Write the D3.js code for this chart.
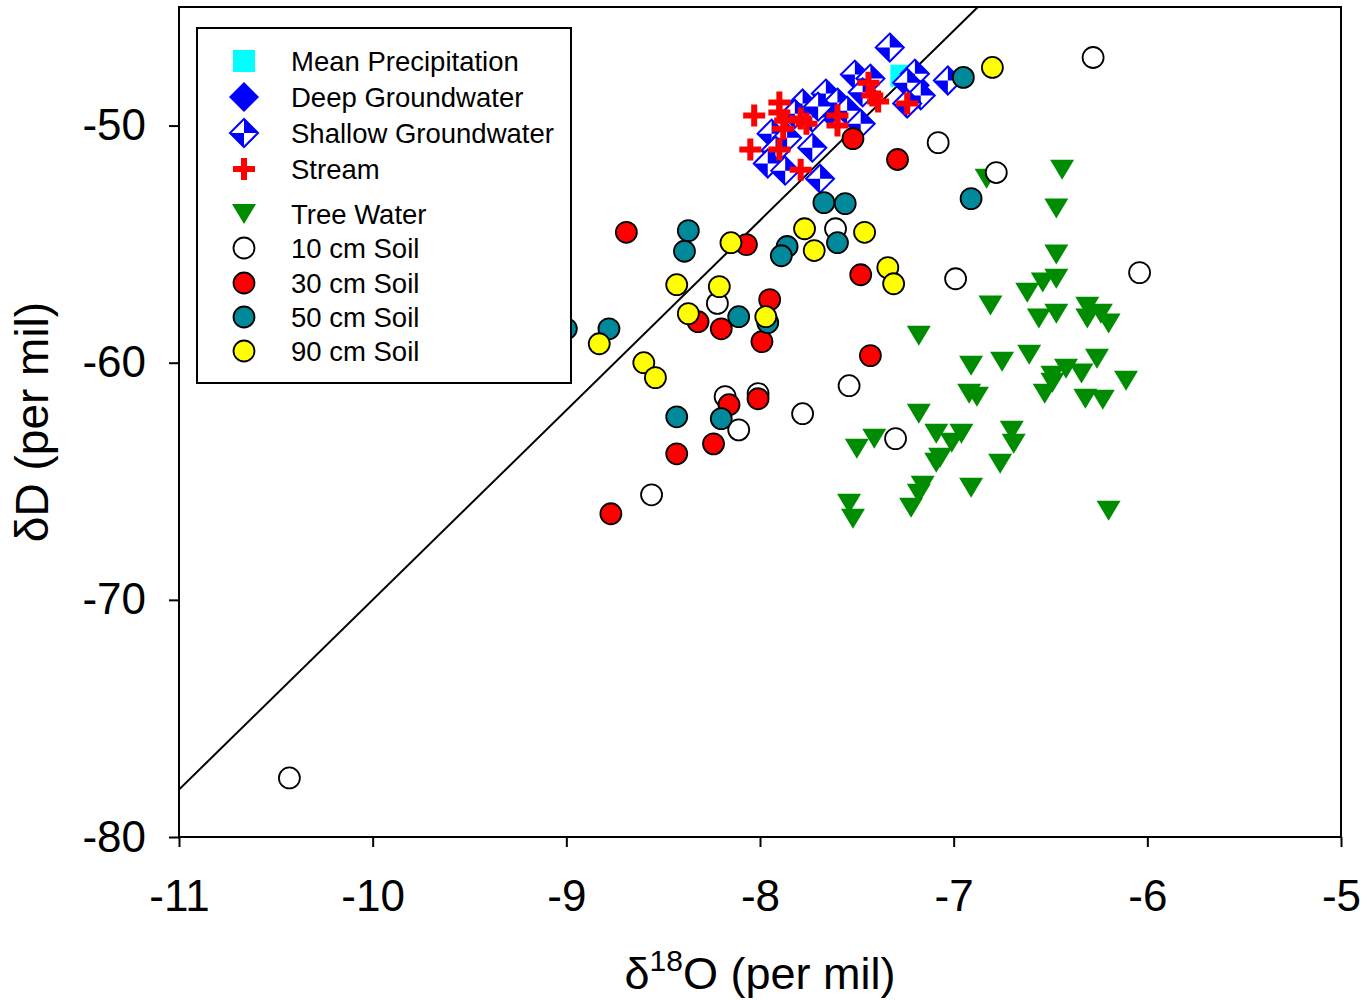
<!DOCTYPE html>
<html><head><meta charset="utf-8">
<script src="https://cdn.jsdelivr.net/npm/d3@7"></script>
<style>
body{margin:0;background:#fff}
svg{display:block}
text{font-family:"Liberation Sans",Arial,Helvetica,sans-serif;fill:#000}
</style>
</head><body>
<svg id="chart" width="1367" height="1000"></svg>
<script>
// ---------- data ----------
const xTicks = [-11, -10, -9, -8, -7, -6, -5];
const yTicks = [-80, -70, -60, -50];

const mwlX = [-11, -6.875];
const mwlY = [-78, -45];

const meanPrecip = [[-7.27, -47.9]];

const deepGW = [[-7.77, -49.2], [-7.20, -48.3], [-7.64, -49.4]];

const shallowGW = [
  [-7.33, -46.71], [-7.51, -47.85], [-7.43, -48.02], [-7.20, -47.81], [-7.24, -48.19],
  [-7.03, -48.10], [-7.17, -48.73], [-7.24, -49.07], [-7.78, -49.07], [-7.66, -48.65],
  [-7.60, -49.03], [-7.55, -49.37], [-7.48, -49.92], [-7.73, -49.66], [-7.94, -50.34],
  [-7.86, -50.51], [-7.73, -50.93], [-7.92, -51.05], [-7.96, -51.60], [-7.87, -51.90],
  [-7.69, -52.24], [-7.47, -48.6], [-7.82, -49.5], [-7.70, -49.2]
];

const stream = [
  [-8.03, -49.58], [-7.90, -49.03], [-7.90, -49.45], [-7.87, -49.79], [-7.79, -49.70],
  [-7.76, -49.92], [-7.60, -49.58], [-7.60, -50.00], [-7.44, -48.19], [-7.42, -48.73],
  [-7.39, -48.99], [-7.24, -49.07], [-8.05, -51.01], [-7.90, -51.01], [-7.79, -51.86],
  [-7.88, -50.13]
];

const treeWater = [
  [-6.83, -52.24], [-6.44, -51.86], [-6.47, -53.50], [-6.47, -55.44], [-6.47, -56.46],
  [-6.54, -56.62], [-6.62, -57.05], [-6.81, -57.59], [-7.18, -58.86], [-6.47, -57.93],
  [-6.56, -58.14], [-6.31, -57.64], [-6.31, -58.14], [-6.24, -57.93], [-6.20, -58.35],
  [-6.91, -60.13], [-6.75, -59.96], [-6.61, -59.66], [-6.26, -59.83], [-6.11, -60.76],
  [-6.42, -60.25], [-6.34, -60.46], [-6.49, -60.55], [-6.49, -60.84], [-6.53, -61.31],
  [-6.32, -61.52], [-6.23, -61.56], [-6.92, -61.31], [-6.88, -61.43], [-7.18, -62.15],
  [-7.50, -63.63], [-7.41, -63.21], [-7.09, -63.00], [-6.96, -63.00], [-7.01, -63.38],
  [-7.09, -64.22], [-7.07, -64.01], [-6.70, -62.87], [-6.69, -63.42], [-6.76, -64.26],
  [-6.91, -65.27], [-7.16, -65.19], [-7.18, -65.53], [-7.22, -66.12], [-7.54, -65.95],
  [-7.52, -66.58], [-6.20, -66.24]
];

const soil10 = [
  [-10.43, -77.51], [-6.28, -47.13], [-7.08, -50.72], [-6.78, -51.98], [-6.04, -56.20],
  [-6.99, -56.46], [-7.61, -54.35], [-8.22, -57.50], [-8.18, -61.43], [-8.01, -61.30],
  [-8.11, -62.83], [-7.78, -62.15], [-7.54, -60.97], [-7.30, -63.20], [-8.56, -65.57]
];

const soil30 = [
  [-8.69, -54.50], [-8.07, -55.02], [-8.32, -58.27], [-8.20, -58.57], [-7.95, -57.34],
  [-7.99, -59.11], [-7.48, -56.29], [-7.43, -59.70], [-7.52, -50.55], [-7.29, -51.43],
  [-8.16, -61.77], [-8.01, -61.52], [-8.24, -63.42], [-8.43, -63.84], [-8.77, -66.37]
];

const soil50 = [
  [-9.00, -58.57], [-8.78, -58.57], [-8.37, -54.43], [-8.39, -55.30], [-7.86, -55.10],
  [-7.89, -55.49], [-7.60, -54.94], [-7.67, -53.25], [-7.56, -53.29], [-8.11, -58.06],
  [-7.96, -58.31], [-6.91, -53.08], [-6.95, -47.97], [-8.43, -62.28], [-8.20, -62.36]
];

const soil90 = [
  [-6.80, -47.55], [-8.15, -54.94], [-7.77, -54.35], [-7.72, -55.27], [-7.46, -54.50],
  [-8.43, -56.71], [-8.21, -56.79], [-8.37, -57.93], [-7.97, -58.06], [-8.83, -59.20],
  [-8.60, -60.00], [-8.54, -60.63], [-7.34, -55.99], [-7.31, -56.67]
];

const legendLabels = ["Mean Precipitation", "Deep Groundwater", "Shallow Groundwater", "Stream",
  "Tree Water", "10 cm Soil", "30 cm Soil", "50 cm Soil", "90 cm Soil"];
const legendKeys = ["precip", "deep", "shallow", "stream", "tree", "s10", "s30", "s50", "s90"];

// ---------- layout ----------
const W = 1367, H = 1000;
const M = {left: 179, right: 1341, top: 7, bottom: 837};
const x = d3.scaleLinear().domain([-11, -5]).range([M.left, M.right]);
const y = d3.scaleLinear().domain([-80, -45]).range([M.bottom, M.top]);

const BLUE = "#0000ff", RED = "#ff0000", GREEN = "#008c00", TEAL = "#00899b",
      YELLOW = "#ffff00", CYAN = "#00ffff";

const svg = d3.select("#chart");
svg.append("rect").attr("width", W).attr("height", H).attr("fill", "#fff");

svg.append("defs").append("clipPath").attr("id", "clip")
  .append("rect").attr("x", M.left).attr("y", M.top)
  .attr("width", M.right - M.left).attr("height", M.bottom - M.top);

const plot = svg.append("g").attr("clip-path", "url(#clip)");

// meteoric water line
plot.append("line")
  .attr("x1", x(mwlX[0])).attr("y1", y(mwlY[0]))
  .attr("x2", x(mwlX[1])).attr("y2", y(mwlY[1]))
  .attr("stroke", "#000").attr("stroke-width", 2);

// ---------- marker drawers ----------
function drawMarker(g, key, cx, cy) {
  const t = g.append("g").attr("transform", `translate(${cx},${cy})`);
  if (key === "precip") {
    t.append("rect").attr("x", -11).attr("y", -11).attr("width", 22).attr("height", 22).attr("fill", CYAN);
  } else if (key === "deep") {
    t.append("path").attr("d", "M0,-15L15,0L0,15L-15,0Z").attr("fill", BLUE);
  } else if (key === "shallow") {
    const r = 14;
    t.append("path").attr("d", `M0,-${r}L${r},0L0,${r}L-${r},0Z`).attr("fill", "#fff");
    t.append("path").attr("d", `M0,-${r}L${r},0L0,0Z`).attr("fill", BLUE);
    t.append("path").attr("d", `M0,${r}L-${r},0L0,0Z`).attr("fill", BLUE);
    t.append("path").attr("d", `M0,-${r}L${r},0L0,${r}L-${r},0Z`).attr("fill", "none")
      .attr("stroke", BLUE).attr("stroke-width", 2);
  } else if (key === "stream") {
    t.append("path").attr("d", "M-3,-11H3V-3H11V3H3V11H-3V3H-11V-3H-3Z").attr("fill", RED);
  } else if (key === "tree") {
    t.append("path").attr("d", "M-12,-10L12,-10L0,10Z").attr("fill", GREEN);
  } else {
    const fill = {s10: "#fff", s30: RED, s50: TEAL, s90: YELLOW}[key];
    t.append("circle").attr("r", 10.5).attr("fill", fill).attr("stroke", "#000").attr("stroke-width", 1.8);
  }
}

function drawSeries(data, key) {
  const g = plot.append("g").attr("class", key);
  data.forEach(d => drawMarker(g, key, x(d[0]), y(d[1])));
}

drawSeries(meanPrecip, "precip");
drawSeries(deepGW, "deep");
drawSeries(shallowGW, "shallow");
drawSeries(stream, "stream");
drawSeries(treeWater, "tree");
drawSeries(soil10, "s10");
drawSeries(soil30, "s30");
drawSeries(soil50, "s50");
drawSeries(soil90, "s90");

// ---------- frame & axes ----------
svg.append("rect")
  .attr("x", M.left).attr("y", M.top)
  .attr("width", M.right - M.left).attr("height", M.bottom - M.top)
  .attr("fill", "none").attr("stroke", "#000").attr("stroke-width", 2);

const xAxis = svg.append("g").attr("transform", `translate(0,${M.bottom})`)
  .call(d3.axisBottom(x).tickValues(xTicks).tickSize(10).tickPadding(33)
        .tickFormat(d => String(d)));
const yAxis = svg.append("g").attr("transform", `translate(${M.left},0)`)
  .call(d3.axisLeft(y).tickValues(yTicks).tickSize(10).tickPadding(23)
        .tickFormat(d => String(d)));
[xAxis, yAxis].forEach(a => {
  a.select(".domain").remove();
  a.selectAll(".tick line").attr("stroke", "#000").attr("stroke-width", 2);
  a.selectAll(".tick text").attr("font-size", 44)
    .attr("font-family", "'Liberation Sans', Arial, sans-serif").attr("fill", "#000");
});

// axis titles
const xt = svg.append("text").attr("x", 760).attr("y", 989)
  .attr("text-anchor", "middle").attr("font-size", 45);
xt.append("tspan").text("δ");
xt.append("tspan").attr("font-size", 30).attr("dy", -18).text("18");
xt.append("tspan").attr("dy", 18).text("O (per mil)");

svg.append("text").attr("transform", "translate(48,422) rotate(-90)")
  .attr("text-anchor", "middle").attr("font-size", 46).text("δD (per mil)");

// ---------- legend ----------
const lg = svg.append("g");
lg.append("rect").attr("x", 197).attr("y", 28).attr("width", 374).attr("height", 355)
  .attr("fill", "#fff").attr("stroke", "#000").attr("stroke-width", 2);
const rowY = [61, 97, 133, 169, 214, 248, 283, 317, 351];
legendKeys.forEach((k, i) => {
  drawMarker(lg, k, 244, rowY[i]);
  lg.append("text").attr("x", 291).attr("y", rowY[i]).attr("dy", "0.36em")
    .attr("font-size", 27.5).text(legendLabels[i]);
});
</script>
</body></html>
